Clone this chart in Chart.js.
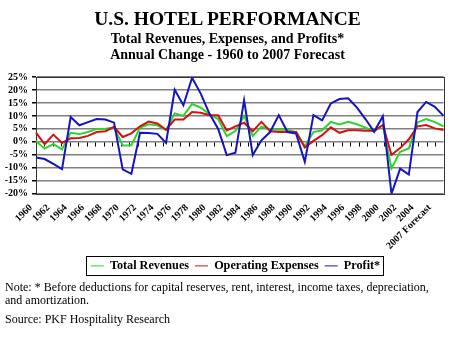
<!DOCTYPE html>
<html>
<head>
<meta charset="utf-8">
<script src="https://cdn.jsdelivr.net/npm/chart.js@4.4.0/dist/chart.umd.min.js"></script>
<style>
    body { margin: 0; background: #fff; width: 460px; height: 345px; overflow: hidden; position: relative;
           font-family: 'Liberation Serif', 'Times New Roman', serif; color: #000; }
    .head { position: absolute; left: 0; width: 455px; text-align: center; font-weight: bold; white-space: nowrap; }
    #title { top: 8.7px; font-size: 19.5px; line-height: 19.5px; }
    #sub1 { top: 31.8px; font-size: 14px; line-height: 14px; }
    #sub2 { top: 47.6px; font-size: 14px; line-height: 14px; }
    #chartBox { position: absolute; left: 0; top: 0; width: 460px; height: 282px; }
    .foot { position: absolute; left: 5px; font-size: 12px; line-height: 13.3px; white-space: nowrap; }
    #note { top: 281px; }
    #source { top: 312.6px; }
</style>
</head>
<body>
<div id="chartBox"><canvas id="hotelChart" width="460" height="282"></canvas></div>
<div class="head" id="title">U.S. HOTEL PERFORMANCE</div>
<div class="head" id="sub1">Total Revenues, Expenses, and Profits*</div>
<div class="head" id="sub2">Annual Change - 1960 to 2007 Forecast</div>
<div class="foot" id="note">Note: * Before deductions for capital reserves, rent, interest, income taxes, depreciation,<br>and amortization.</div>
<div class="foot" id="source">Source: PKF Hospitality Research</div>

<script>
// Categories (one per year)
const years = [
    '1960', '1961', '1962', '1963', '1964', '1965', '1966', '1967', '1968', '1969',
    '1970', '1971', '1972', '1973', '1974', '1975', '1976', '1977', '1978', '1979',
    '1980', '1981', '1982', '1983', '1984', '1985', '1986', '1987', '1988', '1989',
    '1990', '1991', '1992', '1993', '1994', '1995', '1996', '1997', '1998', '1999',
    '2000', '2001', '2002', '2003', '2004', '2005', '2006', '2007 Forecast'
];

// Labels shown under every second category
const xTickLabels = [
    '1960', '1962', '1964', '1966', '1968', '1970', '1972', '1974', '1976', '1978',
    '1980', '1982', '1984', '1986', '1988', '1990', '1992', '1994', '1996', '1998',
    '2000', '2002', '2004', '2007 Forecast'
];

// Annual change, percent
const totalRevenues = [
    0.3, -2.6, -0.9, -2.9, 3.5, 3.0, 3.8, 5.0, 5.1, 5.5,
    -1.4, -1.3, 5.5, 6.8, 6.4, 4.5, 11.0, 10.0, 14.6, 13.2,
    10.7, 8.8, 2.2, 4.2, 10.0, 2.3, 5.9, 4.7, 4.7, 4.7,
    3.8, -1.7, 3.8, 4.5, 7.7, 6.7, 7.7, 6.8, 5.5, 4.0,
    6.5, -10.2, -3.8, -2.5, 7.5, 8.8, 7.6, 6.0
];
const operatingExpenses = [
    3.6, -0.9, 2.8, -0.4, 1.4, 1.5, 2.3, 3.8, 4.1, 5.8,
    1.9, 3.3, 6.0, 7.8, 7.1, 4.7, 8.6, 8.6, 11.5, 11.2,
    10.3, 10.3, 4.4, 6.0, 7.4, 4.1, 7.7, 4.1, 3.8, 3.8,
    3.8, -2.2, 0.4, 2.6, 5.6, 3.5, 4.5, 4.5, 4.3, 4.3,
    6.5, -5.0, -2.4, 1.0, 6.0, 6.5, 5.2, 4.6
];
const profit = [
    -6.0, -6.6, -8.5, -10.5, 9.6, 6.4, 7.6, 8.8, 8.6, 7.4,
    -10.6, -12.3, 3.5, 3.4, 3.1, -0.4, 20.1, 14.1, 24.7, 18.6,
    10.9, 5.1, -5.1, -4.2, 16.0, -5.1, 0.6, 3.8, 10.3, 3.8,
    3.2, -7.7, 10.3, 8.3, 14.8, 16.5, 16.8, 13.3, 8.8, 3.9,
    9.9, -20.0, -10.3, -12.6, 11.5, 15.4, 13.5, 10.0
];

// Y axis range
const yMin = -20;
const yMax = 25;
const yStep = 5;

const serif = "'Liberation Serif', 'Times New Roman', serif";

// Plot frame plus the little category ticks along the 0% line
const plotFrame = {
    id: 'plotFrame',
    beforeDatasetsDraw(chart) {
        const { ctx, chartArea: a, scales } = chart;
        const y0 = Math.round(scales.y.getPixelForValue(0)) + 0.5;
        const step = (a.right - a.left) / years.length;
        ctx.save();
        ctx.strokeStyle = '#000';
        ctx.lineWidth = 1;
        ctx.beginPath();
        for (let k = 0; k <= years.length; k++) {
            const x = Math.round(a.left + k * step) + 0.5;
            ctx.moveTo(x, y0);
            ctx.lineTo(x, y0 + 4);
        }
        ctx.stroke();
        ctx.strokeStyle = '#333';
        ctx.strokeRect(Math.round(a.left) + 0.5, Math.round(a.top) + 0.5,
            Math.round(a.right - a.left), Math.round(a.bottom - a.top));
        ctx.restore();
    }
};

// Move the legend a bit right and put a box round it
const legendFrame = {
    id: 'legendFrame',
    afterLayout(chart) {
        chart.legend.left += 13;
        chart.legend.right += 13;
    },
    afterDraw(chart) {
        const boxes = chart.legend.legendHitBoxes;
        if (!boxes.length) return;
        const left = Math.min(...boxes.map(b => b.left));
        const right = Math.max(...boxes.map(b => b.left + b.width));
        const top = Math.min(...boxes.map(b => b.top));
        const bottom = Math.max(...boxes.map(b => b.top + b.height));
        const ctx = chart.ctx;
        ctx.save();
        ctx.strokeStyle = '#000';
        ctx.lineWidth = 1;
        ctx.strokeRect(Math.round(left - 5) + 0.5, Math.round(top - 3.5) + 0.5,
            Math.round(right - left + 8), Math.round(bottom - top + 6.5));
        ctx.restore();
    }
};

const ctx = document.getElementById('hotelChart').getContext('2d');
const hotelChart = new Chart(ctx, {
    type: 'line',
    data: {
        labels: years,
        datasets: [
            { label: 'Total Revenues', data: totalRevenues, borderColor: '#2bd42b', backgroundColor: '#2bd42b', order: 2 },
            { label: 'Operating Expenses', data: operatingExpenses, borderColor: '#d41111', backgroundColor: '#d41111', order: 1 },
            { label: 'Profit*', data: profit, borderColor: '#1414c0', backgroundColor: '#1414c0', order: 0 }
        ]
    },
    options: {
        responsive: false,
        animation: false,
        elements: {
            line: { borderWidth: 2, tension: 0 },
            point: { radius: 0, hoverRadius: 0 }
        },
        layout: { padding: { top: 77, left: 0, right: 15, bottom: 0 } },
        plugins: {
            tooltip: { enabled: false },
            legend: {
                position: 'bottom',
                labels: {
                    usePointStyle: true,
                    pointStyle: 'line',
                    pointStyleWidth: 13,
                    padding: 6,
                    color: '#000',
                    font: { family: serif, size: 12.2, weight: 'bold' },
                    sort: (a, b) => a.datasetIndex - b.datasetIndex
                }
            }
        },
        scales: {
            x: {
                grid: { display: false, drawTicks: false },
                border: { display: false },
                afterFit(scale) { scale.height = 60; },
                ticks: {
                    autoSkip: false,
                    minRotation: 45,
                    maxRotation: 45,
                    padding: 8,
                    labelOffset: -5,
                    color: '#000',
                    font: { family: serif, size: 10, weight: 'bold' },
                    callback: function(value, index) {
                        return index % 2 === 0 ? xTickLabels[index / 2] : '';
                    }
                }
            },
            y: {
                min: yMin,
                max: yMax,
                afterFit(scale) { scale.width = 36; },
                grid: { color: '#808080', lineWidth: 1.5, tickLength: 4, tickColor: '#000' },
                border: { color: '#000', width: 1 },
                ticks: {
                    stepSize: yStep,
                    autoSkip: false,
                    padding: 4,
                    color: '#000',
                    font: { family: serif, size: 10, weight: 'bold' },
                    callback: function(value) {
                        return value + '%';
                    }
                }
            }
        }
    },
    plugins: [plotFrame, legendFrame]
});
</script>
</body>
</html>
